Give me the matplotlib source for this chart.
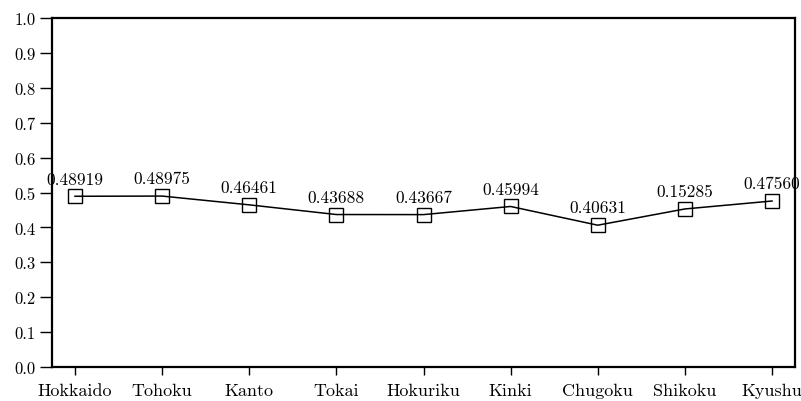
import matplotlib
matplotlib.use("Agg")
import matplotlib.pyplot as plt

regions = ["Hokkaido", "Tohoku", "Kanto", "Tokai", "Hokuriku", "Kinki", "Chugoku", "Shikoku", "Kyushu"]
values = [0.48919, 0.48975, 0.46461, 0.43688, 0.43667, 0.45994, 0.40631, 0.45285, 0.47560]
value_labels = ["0.48919", "0.48975", "0.46461", "0.43688", "0.43667", "0.45994", "0.40631", "0.15285", "0.47560"]
y_ticks = [0.0, 0.1, 0.2, 0.3, 0.4, 0.5, 0.6, 0.7, 0.8, 0.9, 1.0]

plt.rcParams["font.family"] = ["cmr10", "DejaVu Serif"]
plt.rcParams["axes.formatter.use_mathtext"] = True

fig = plt.figure(figsize=(8.01, 4.02), dpi=100)
ax = fig.add_axes([52 / 801, 1 - 368 / 402, (795 - 52) / 801, (368 - 19) / 402])

x = list(range(len(regions)))
ax.plot(x, values, color="black", linewidth=1.1, marker="s", markersize=10,
        markerfacecolor="none", markeredgecolor="black", markeredgewidth=1.0)

for xi, val, lab in zip(x, values, value_labels):
    ax.annotate(lab, (xi, val), xytext=(0, 7), textcoords="offset points",
                ha="center", va="bottom", fontsize=12.5)

ax.set_xlim(-0.264, len(regions) - 1 + 0.264)
ax.set_ylim(0, 1.0)
ax.set_yticks(y_ticks)
ax.set_yticklabels([f"{t:.1f}" for t in y_ticks], fontsize=12)
ax.set_xticks(x)
ax.set_xticklabels(regions, fontsize=13)
ax.tick_params(axis="y", direction="out", length=9, width=1.0, pad=3)
ax.tick_params(axis="x", direction="out", length=6, width=1.0, pad=5)
for s in ax.spines.values():
    s.set_linewidth(1.6)

fig.savefig("out.png", dpi=100)
